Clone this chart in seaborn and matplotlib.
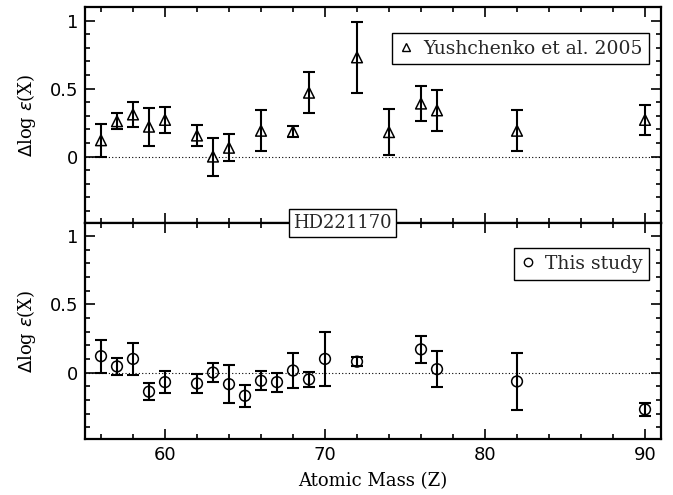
import numpy as np
import pandas as pd
import matplotlib
matplotlib.use("Agg")
import matplotlib.pyplot as plt
import seaborn as sns
from matplotlib.lines import Line2D
from matplotlib.ticker import MultipleLocator


# ============================================================
# DATA
# ============================================================

yush_z = [56, 57, 58, 59, 60, 62, 63, 64, 66, 68, 69, 72, 74, 76, 77, 82, 90]
yush_val = [0.12, 0.26, 0.31, 0.22, 0.27, 0.155, 0.0, 0.065, 0.19, 0.185,
            0.47, 0.73, 0.18, 0.39, 0.34, 0.19, 0.27]
yush_err = [0.12, 0.06, 0.09, 0.14, 0.095, 0.08, 0.14, 0.10, 0.15, 0.04,
            0.15, 0.26, 0.17, 0.13, 0.15, 0.15, 0.11]

this_z = [56, 57, 58, 59, 60, 62, 63, 64, 65, 66, 67, 68, 69, 70, 72, 76, 77, 82, 90]
this_val = [0.12, 0.045, 0.10, -0.14, -0.07, -0.08, 0.0, -0.085, -0.17, -0.06,
            -0.07, 0.015, -0.05, 0.10, 0.08, 0.17, 0.025, -0.065, -0.27]
this_err = [0.12, 0.06, 0.12, 0.06, 0.08, 0.07, 0.07, 0.14, 0.08, 0.07,
            0.07, 0.13, 0.055, 0.20, 0.035, 0.10, 0.13, 0.21, 0.05]

star_name = "HD221170"
xlim = (55, 91)
ylim = (-0.487, 1.098)


# ============================================================
# STYLE
# ============================================================

sns.set_theme(style="ticks")
plt.rcParams["font.family"] = ["DejaVu Sans"]
serif = ["DejaVu Serif"]


def style_axes(ax):
    """
    Inward ticks on all four sides, thick frame, dotted zero line.
    """
    ax.set_xlim(*xlim)
    ax.set_ylim(*ylim)
    ax.xaxis.set_major_locator(MultipleLocator(10))
    ax.xaxis.set_minor_locator(MultipleLocator(2))
    ax.yaxis.set_major_locator(MultipleLocator(0.5))
    ax.yaxis.set_minor_locator(MultipleLocator(0.1))
    ax.set_yticks([0, 0.5, 1])
    ax.set_yticklabels(["0", "0.5", "1"])
    ax.tick_params(which="both", direction="in", top=True, right=True,
                   color="black", width=1.2, labelsize=13, labelcolor="black")
    ax.tick_params(which="major", length=7, pad=5)
    ax.tick_params(which="minor", length=3.6)
    for spine in ax.spines.values():
        spine.set_visible(True)
        spine.set_linewidth(1.6)
        spine.set_color("black")
    ax.axhline(0, color="black", linestyle=(0, (1, 2)), linewidth=0.8, zorder=1)
    ax.set_ylabel(r"$\Delta$log $\epsilon$(X)", family=serif, fontsize=13,
                  color="black", labelpad=8)


def draw_panel(ax, z, val, err, marker, label):
    df = pd.DataFrame({"z": z, "val": val, "err": err})
    ax.errorbar(df["z"], df["val"], yerr=df["err"], fmt="none",
                ecolor="black", elinewidth=1.5, capsize=4.5, capthick=1.5,
                zorder=2)
    sns.scatterplot(data=df, x="z", y="val", marker=marker, s=60,
                    facecolor="none", edgecolor="black", linewidth=1.1,
                    ax=ax, zorder=3, legend=False)
    handle = Line2D([], [], linestyle="none", marker=marker, markersize=6,
                    markerfacecolor="none", markeredgecolor="black",
                    markeredgewidth=1.0)
    leg = ax.legend([handle], [label], loc="upper right",
                    bbox_to_anchor=(0.979, 0.881), borderaxespad=0,
                    fancybox=False, framealpha=1, edgecolor="black",
                    handlelength=0.8, handletextpad=0.5, borderpad=0.35,
                    prop={"family": serif, "size": 13.5})
    leg.get_frame().set_linewidth(1.0)


# ============================================================
# FIGURE
# ============================================================

fig = plt.figure(figsize=(6.73, 4.95), dpi=100)
ax_top = fig.add_axes([0.1263, 0.5500, 0.8559, 0.4352])
ax_bot = fig.add_axes([0.1263, 0.1131, 0.8559, 0.4369])

draw_panel(ax_top, yush_z, yush_val, yush_err, "^", "Yushchenko et al. 2005")
draw_panel(ax_bot, this_z, this_val, this_err, "o", "This study")

for ax in (ax_top, ax_bot):
    style_axes(ax)

ax_top.set_xlabel("")
ax_top.tick_params(labelbottom=False)
ax_bot.set_xlabel("Atomic Mass (Z)", family=serif, fontsize=13,
                  color="black", labelpad=6)

fig.text(342.5 / 673, 1 - 223 / 495, star_name, family=serif, fontsize=13,
         ha="center", va="center", zorder=10,
         bbox=dict(boxstyle="square,pad=0.25", facecolor="white",
                   edgecolor="black", linewidth=1.0))

fig.savefig("out.png", dpi=100)
